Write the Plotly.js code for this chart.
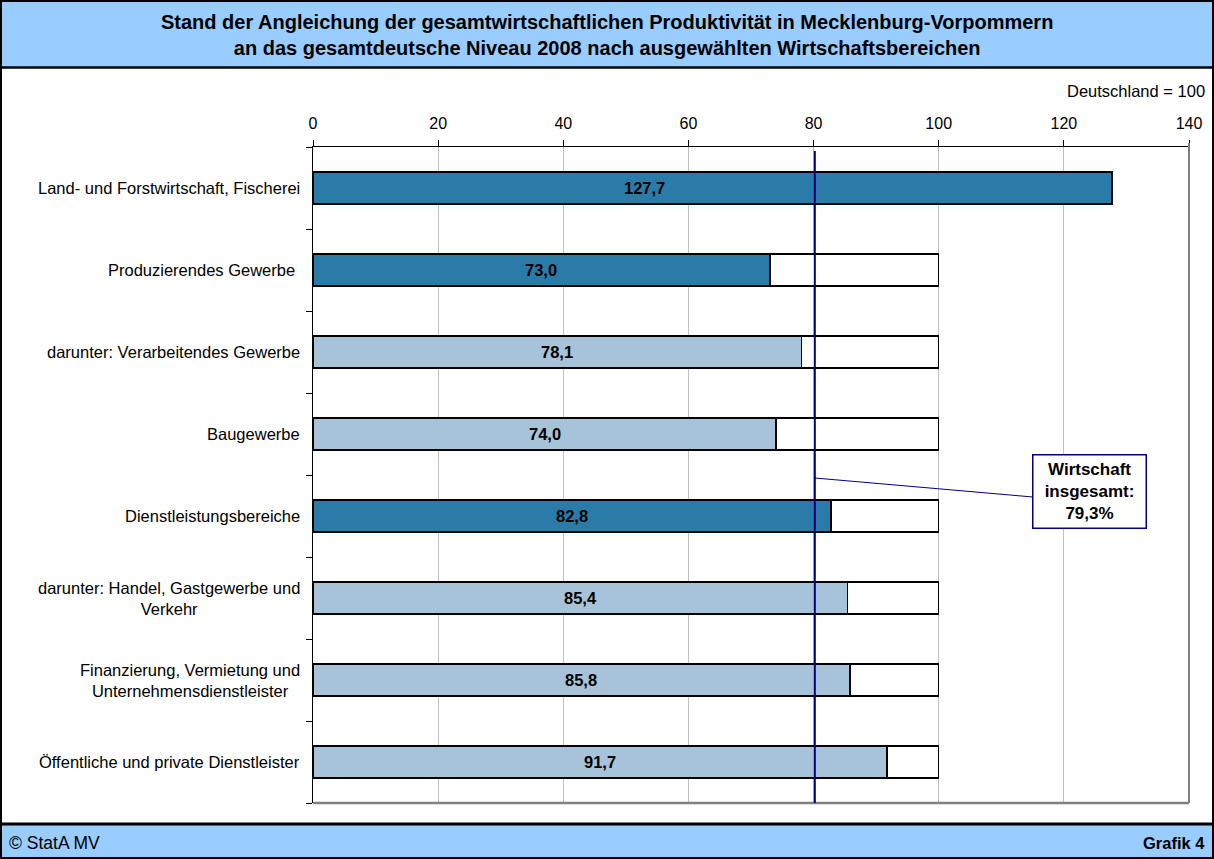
<!DOCTYPE html>
<html>
<head>
<meta charset="utf-8">
<script src="https://cdn.plot.ly/plotly-3.0.1.min.js"></script>
<style>
html,body{margin:0;padding:0;background:#fff;}
#chart{width:1214px;height:859px;}
</style>
</head>
<body>
<div id="chart"></div>
<script>
// ---- data ----
const categories = [
  "Land- und Forstwirtschaft, Fischerei",
  "Produzierendes Gewerbe ",
  "darunter: Verarbeitendes Gewerbe",
  "Baugewerbe",
  "Dienstleistungsbereiche",
  "darunter: Handel, Gastgewerbe und<br>Verkehr",
  "Finanzierung, Vermietung und<br>Unternehmensdienstleister",
  "Öffentliche und private Dienstleister"
];
const values = [127.7, 73.0, 78.1, 74.0, 82.8, 85.4, 85.8, 91.7];
const isMainSector = [true, true, false, false, true, false, false, false];
const germanyLevel = 100;
const overallLine = 80.2;          // position of the "Wirtschaft insgesamt" line as drawn
const overallLabel = "79,3%";
const xTicks = [0, 20, 40, 60, 80, 100, 120, 140];

// ---- layout geometry (pixels) ----
const W = 1214, H = 859;
const L = 313, R = 1189, T = 147, B = 803;
const px = x => (x - L) / (R - L);
const py = y => (B - y) / (B - T);

const DARK = "#2A7BA8", LIGHT = "#A6C3D9", NAVY = "#000080";
const FONT = "Liberation Sans, Arial, sans-serif";

const idx = categories.map((_, i) => i);

const traces = [
  {
    type: "bar", orientation: "h",
    y: idx, x: values,
    marker: { color: isMainSector.map(m => m ? DARK : LIGHT), line: { color: "#000", width: 1.5 } },
    width: 0.39, hoverinfo: "skip"
  },
  {
    type: "bar", orientation: "h",
    y: idx, x: values.map(v => Math.max(0, germanyLevel - v)),
    marker: { color: "#fff", line: { color: "#000", width: 1.5 } },
    width: 0.39, hoverinfo: "skip"
  }
];

const annotations = [];
// category labels
categories.forEach((c, i) => {
  annotations.push({
    xref: "paper", yref: "y", x: 0, y: i, xanchor: "right", yanchor: "middle",
    xshift: -11, text: c, showarrow: false, align: "center",
    font: { family: FONT, size: 16.5, color: "#000" }
  });
});
// value labels
values.forEach((v, i) => {
  annotations.push({
    xref: "x", yref: "y", x: Math.min(v, germanyLevel) / 2 + (v > germanyLevel ? 3 : 0), y: i,
    text: "<b>" + v.toFixed(1).replace(".", ",") + "</b>", showarrow: false,
    font: { family: FONT, size: 16.5, color: "#000" }
  });
});
// header title
annotations.push({
  xref: "paper", yref: "paper", x: px(607), y: py(35), xanchor: "center", yanchor: "middle",
  text: "<b>Stand der Angleichung der gesamtwirtschaftlichen Produktivität in Mecklenburg-Vorpommern<br>an das gesamtdeutsche Niveau 2008 nach ausgewählten Wirtschaftsbereichen</b>",
  showarrow: false, align: "center", font: { family: FONT, size: 20, color: "#000" }
});
annotations.push({
  xref: "paper", yref: "paper", x: px(1207), y: py(91), xanchor: "right", yanchor: "middle",
  text: "Deutschland = 100", showarrow: false, font: { family: FONT, size: 16.5, color: "#000" }
});
// footer
annotations.push({
  xref: "paper", yref: "paper", x: px(7), y: py(843), xanchor: "left", yanchor: "middle",
  text: "© StatA MV", showarrow: false, font: { family: FONT, size: 17.5, color: "#000" }
});
annotations.push({
  xref: "paper", yref: "paper", x: px(1207), y: py(843), xanchor: "right", yanchor: "middle",
  text: "<b>Grafik 4</b>", showarrow: false, font: { family: FONT, size: 16.5, color: "#000" }
});
// overall box
annotations.push({
  xref: "paper", yref: "paper", x: px(1089), y: py(491), xanchor: "center", yanchor: "middle",
  text: "<b>Wirtschaft<br>insgesamt:<br>" + overallLabel + "</b>", showarrow: false,
  width: 112, height: 72, bgcolor: "#fff", bordercolor: NAVY, borderwidth: 1.5, borderpad: 0,
  align: "center", font: { family: FONT, size: 17, color: "#000" }
});

const shapes = [
  // header band
  { type: "rect", xref: "paper", yref: "paper", x0: px(0), x1: px(W), y0: py(0), y1: py(67), fillcolor: "#99CCFF", line: { width: 0 }, layer: "below" },
  { type: "line", xref: "paper", yref: "paper", x0: px(0), x1: px(W), y0: py(67.5), y1: py(67.5), line: { color: "#000", width: 2.5 } },
  // footer band
  { type: "rect", xref: "paper", yref: "paper", x0: px(0), x1: px(W), y0: py(824), y1: py(H), fillcolor: "#99CCFF", line: { width: 0 }, layer: "below" },
  { type: "line", xref: "paper", yref: "paper", x0: px(0), x1: px(W), y0: py(824), y1: py(824), line: { color: "#000", width: 3 } },
  // outer border
  { type: "rect", xref: "paper", yref: "paper", x0: px(1), x1: px(W - 1), y0: py(1), y1: py(H - 1), line: { color: "#000", width: 2 } },
  // right and bottom frame of plot
  { type: "line", xref: "paper", yref: "paper", x0: 1, x1: 1, y0: 0, y1: py(143), line: { color: "#808080", width: 2 } },
  { type: "line", xref: "paper", yref: "paper", x0: 0, x1: 1, y0: 0, y1: 0, line: { color: "#808080", width: 2.5 } },
  // overall line
  { type: "line", xref: "x", yref: "paper", x0: overallLine, x1: overallLine, y0: 0, y1: py(151), line: { color: NAVY, width: 2 } },
  // connector to box
  { type: "line", xref: "x", yref: "paper", x0: overallLine, x1: overallLine + (1033 - 815) / ((R - L) / 140), y0: py(478), y1: py(497), line: { color: NAVY, width: 1 } }
];

const layout = {
  width: W, height: H,
  margin: { l: L, r: W - R, t: T, b: H - B, pad: 0 },
  paper_bgcolor: "#fff", plot_bgcolor: "#fff",
  barmode: "stack", showlegend: false,
  font: { family: FONT, size: 16, color: "#000" },
  xaxis: {
    side: "top", range: [0, 140], tickvals: xTicks, ticktext: xTicks.map(String),
    showgrid: true, gridcolor: "#C0C0C0", gridwidth: 1, zeroline: false,
    showline: true, linecolor: "#000", linewidth: 1.5,
    ticks: "outside", ticklen: 6, tickcolor: "#000", tickwidth: 1,
    ticklabelstandoff: 4,
    tickfont: { family: FONT, size: 16, color: "#000" }, fixedrange: true
  },
  yaxis: {
    type: "linear", range: [7.5, -0.5], showticklabels: false,
    tickvals: [-0.5, 0.5, 1.5, 2.5, 3.5, 4.5, 5.5, 6.5, 7.5],
    ticks: "outside", ticklen: 6, tickcolor: "#000", tickwidth: 1,
    showgrid: false, zeroline: false,
    showline: true, linecolor: "#000", linewidth: 1.5, fixedrange: true
  },
  annotations: annotations,
  shapes: shapes
};

Plotly.newPlot("chart", traces, layout, { displayModeBar: false, staticPlot: true });
</script>
</body>
</html>
